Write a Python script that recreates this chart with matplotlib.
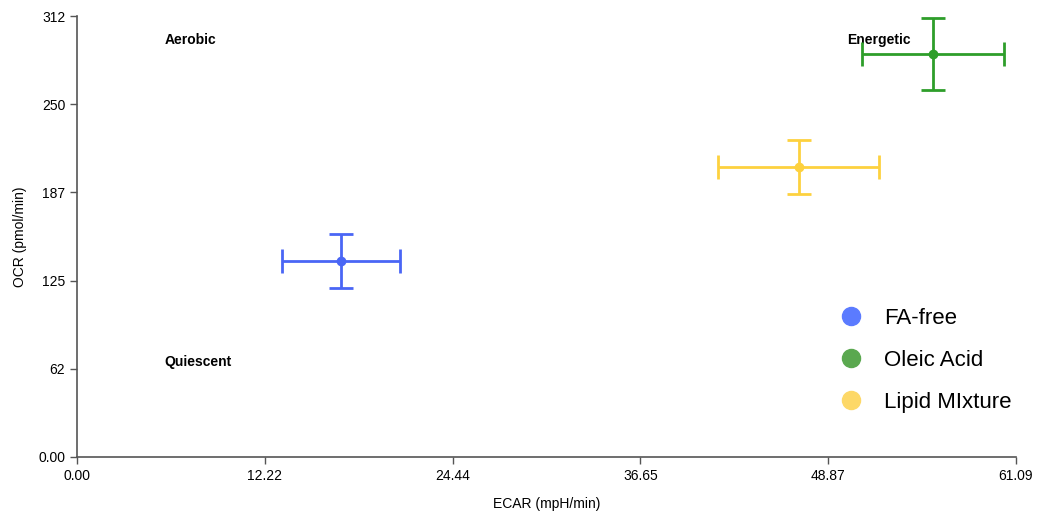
import matplotlib.pyplot as plt
from matplotlib.lines import Line2D

plt.rcParams['font.family'] = ['Liberation Sans', 'DejaVu Sans']

# data
groups = ['FA-free', 'Oleic Acid', 'Lipid MIxture']
ecar = [17.18, 55.69, 46.97]
ecar_err = [3.84, 4.62, 5.24]
ocr = [138.7, 285.1, 205.2]
ocr_err = [19.1, 25.5, 19.1]
line_colors = ['#4a66f5', '#2e9e2a', '#fdd13f']
legend_colors = ['#5b7bff', '#5aa84f', '#fdd867']

xmax, ymax = 61.09, 312
xticks = [0, 12.22, 24.44, 36.65, 48.87, 61.09]
xlabels = ['0.00', '12.22', '24.44', '36.65', '48.87', '61.09']
yticks = [0, 62.4, 124.8, 187.2, 249.6, 312]
ylabels = ['0.00', '62', '125', '187', '250', '312']

quadrants = [('Aerobic', 5.7, 295), ('Quiescent', 5.7, 67), ('Energetic', 50.1, 295)]

fig = plt.figure(figsize=(10.37, 5.18), dpi=100)
ax = fig.add_axes([0.0743, 0.1178, 0.9054, 0.8513])

for x, xe, y, ye, c in zip(ecar, ecar_err, ocr, ocr_err, line_colors):
    ax.errorbar(x, y, xerr=xe, yerr=ye, fmt='o', color=c, ms=6,
                elinewidth=2, capsize=8.5, capthick=2, zorder=3)

for name, x, y in quadrants:
    ax.text(x, y, name, fontsize=10, fontweight='bold', va='center', ha='left', zorder=2)

ax.set_xlim(0, xmax)
ax.set_ylim(0, ymax)
ax.set_xticks(xticks)
ax.set_xticklabels(xlabels)
ax.set_yticks(yticks)
ax.set_yticklabels(ylabels)
ax.tick_params(labelsize=10, color='#555555', length=5, width=1)
for s in ['top', 'right']:
    ax.spines[s].set_visible(False)
for s in ['left', 'bottom']:
    ax.spines[s].set_color('#555555')
    ax.spines[s].set_linewidth(1.2)

ax.set_xlabel('ECAR (mpH/min)', fontsize=10, labelpad=10)
ax.set_ylabel('OCR (pmol/min)', fontsize=10, labelpad=8)

# legend
handles = [Line2D([], [], marker='o', ls='', ms=13, color=c) for c in legend_colors]
fig.legend(handles, groups, loc='upper left', bbox_to_anchor=(0.8013, 0.4228),
           borderaxespad=0, frameon=False, fontsize=16, handlelength=1.0,
           handletextpad=1.0, labelspacing=0.95)

fig.savefig('out.png', dpi=100)
